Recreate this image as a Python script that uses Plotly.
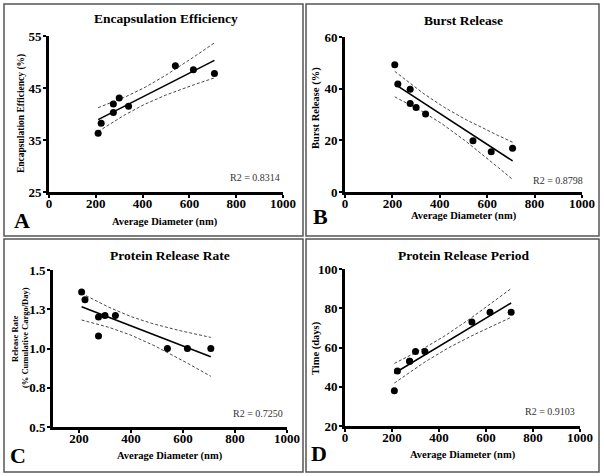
import numpy as np
import plotly.graph_objects as go

W, H = 604, 476
SERIF = "Liberation Serif"

# data (average diameter in nm)
diameter = [210, 223, 275, 275, 300, 340, 540, 617, 707]
encapsulation = [36.3, 38.2, 41.9, 40.3, 43.1, 41.5, 49.3, 48.5, 47.8]
burst = [49.3, 41.8, 39.8, 34.3, 32.7, 30.2, 19.8, 15.6, 16.9]
release_rate = [1.36, 1.31, 1.20, 1.08, 1.21, 1.21, 1.00, 1.00, 1.00]
release_period = [38, 48, 53, 53, 58, 58, 73, 78, 78]

titles = ["Encapsulation Efficiency", "Burst Release", "Protein Release Rate", "Protein Release Period"]
y_titles = [["Encapsulation Efficiency (%)"], ["Burst Release (%)"],
            ["Release Rate", "(% Cumulative Cargo/Day)"], ["Time (days)"]]
r2_labels = ["R2 = 0.8314", "R2 = 0.8798", "R2 = 0.7250", "R2 = 0.9103"]
letters = ["A", "B", "C", "D"]
x_ticks = [[0, 200, 400, 600, 800, 1000], [0, 200, 400, 600, 800, 1000],
           [200, 400, 600, 800, 1000], [0, 200, 400, 600, 800, 1000]]
y_ticks = [[25, 35, 45, 55], [0, 20, 40, 60], [0.5, 0.75, 1.0, 1.25, 1.5], [20, 40, 60, 80, 100]]
y_tick_text = [["25", "35", "45", "55"], ["0", "20", "40", "60"],
               ["0.5", "0.8", "1.0", "1.3", "1.5"], ["20", "40", "60", "80", "100"]]
x_ranges = [[0, 1000], [0, 1000], [100, 1000], [0, 1000]]
y_ranges = [[25, 55], [0, 60], [0.5, 1.5], [20, 100]]
series = [encapsulation, burst, release_rate, release_period]

# pixel geometry of each panel (yt: x of each title line, y centre, font size)
panels = [
    dict(box=(4, 4, 303, 236), xdom=(49, 283), ydom=(36, 192), title=(166, 19), xt=(165, 222),
         yt=([21], 114, 9.5), letter=(22, 220), r2=(281, 177)),
    dict(box=(306, 4, 599, 236), xdom=(345, 582), ydom=(37, 192), title=(463, 21), xt=(464, 216),
         yt=([316], 108, 10.5), letter=(320, 217), r2=(584, 180)),
    dict(box=(4, 239, 303, 472), xdom=(53, 287), ydom=(270, 427), title=(170, 255), xt=(170, 456),
         yt=([15, 25], 338, 8.5), letter=(18, 455), r2=(284, 413)),
    dict(box=(306, 239, 599, 472), xdom=(345, 580), ydom=(269, 426), title=(463, 255), xt=(463, 455),
         yt=([316], 348, 10.5), letter=(319, 453), r2=(576, 411)),
]


def fx(px):
    return px / W


def fy(py):
    return 1 - py / H


def fit_with_band(x, y, t_crit=2.365):
    # least squares line with its 95% confidence band (df = n - 2)
    x = np.asarray(x, float)
    y = np.asarray(y, float)
    slope, icpt = np.polyfit(x, y, 1)
    resid = y - (slope * x + icpt)
    n = len(x)
    s = np.sqrt(np.sum(resid ** 2) / (n - 2))
    sxx = np.sum((x - x.mean()) ** 2)
    xs = np.linspace(x.min(), x.max(), 60)
    ys = slope * xs + icpt
    half = t_crit * s * np.sqrt(1 / n + (xs - x.mean()) ** 2 / sxx)
    return xs, ys, ys - half, ys + half


fig = go.Figure()
annotations = []
shapes = []
layout_axes = {}


def note(text, pos, size, bold=True, xanchor="center", angle=0, color="black"):
    annotations.append(dict(text=text, x=fx(pos[0]), y=fy(pos[1]), xref="paper", yref="paper",
                            showarrow=False, xanchor=xanchor, yanchor="middle", textangle=angle,
                            borderpad=0,
                            font=dict(family=SERIF, size=size, color=color,
                                      weight="bold" if bold else "normal")))


for i, p in enumerate(panels):
    k = "" if i == 0 else str(i + 1)
    xs, ys, lo, hi = fit_with_band(diameter, series[i])

    for band in (lo, hi):
        fig.add_trace(go.Scatter(x=xs, y=band, mode="lines", xaxis="x" + k, yaxis="y" + k,
                                 line=dict(color="#333333", width=0.9, dash="3px,2px"),
                                 showlegend=False, hoverinfo="skip"))
    fig.add_trace(go.Scatter(x=xs, y=ys, mode="lines", xaxis="x" + k, yaxis="y" + k,
                             line=dict(color="black", width=1.6), showlegend=False))
    fig.add_trace(go.Scatter(x=diameter, y=series[i], mode="markers", xaxis="x" + k, yaxis="y" + k,
                             marker=dict(color="black", size=7), showlegend=False, cliponaxis=False))

    axis_common = dict(showgrid=False, zeroline=False, showline=True, linecolor="black", linewidth=3,
                       ticks="outside", ticklen=3, tickwidth=2, tickcolor="black", automargin=False,
                       tickfont=dict(family=SERIF, size=13, color="black", weight="bold"))
    layout_axes["xaxis" + k] = dict(axis_common, domain=[fx(p["xdom"][0]), fx(p["xdom"][1])],
                                    range=x_ranges[i], tickvals=x_ticks[i], anchor="y" + k,
                                    ticklabelstandoff=-6)
    layout_axes["yaxis" + k] = dict(axis_common, domain=[fy(p["ydom"][1]), fy(p["ydom"][0])],
                                    range=y_ranges[i], tickvals=y_ticks[i], ticktext=y_tick_text[i],
                                    anchor="x" + k, ticklabelstandoff=-1)

    x0, y0, x1, y1 = p["box"]
    shapes.append(dict(type="rect", xref="paper", yref="paper", x0=fx(x0), x1=fx(x1), y0=fy(y1), y1=fy(y0),
                       line=dict(color="#555555", width=1.5)))

    note(titles[i], p["title"], 13.5)
    note("Average Diameter (nm)", p["xt"], 10.5)
    for line_x, line_text in zip(p["yt"][0], y_titles[i]):
        note(line_text, (line_x, p["yt"][1]), p["yt"][2], angle=-90)
    note(letters[i], p["letter"], 22)
    note(r2_labels[i], p["r2"], 10, bold=False, xanchor="right", color="#333333")

fig.update_layout(
    width=W, height=H,
    margin=dict(l=0, r=0, t=0, b=0, pad=0),
    paper_bgcolor="white", plot_bgcolor="white",
    annotations=annotations, shapes=shapes,
    **layout_axes,
)

# drop the default 8px body margin so the figure sits at the window's corner
fig.write_html("out.html", config={"displayModeBar": False},
               post_script="document.body.style.margin='0px';document.body.style.overflow='hidden';")
